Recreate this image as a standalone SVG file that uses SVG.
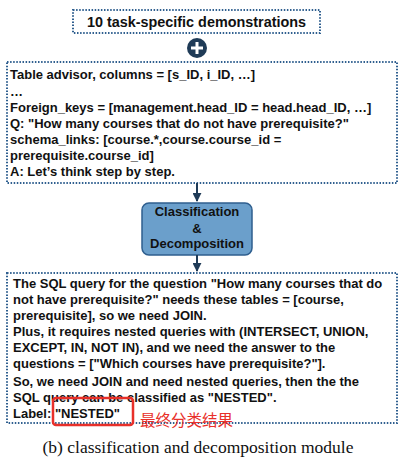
<svg xmlns="http://www.w3.org/2000/svg" width="408" height="467" viewBox="0 0 408 467">
<defs>
<marker id="ah" viewBox="0 0 10 10" refX="9" refY="5" markerWidth="4.5" markerHeight="4.5" orient="auto"><path d="M0,0 L10,5 L0,10 z" fill="#1f3b57"/></marker>
<style>
.dot{fill:#fff;stroke:#2f5f8f;stroke-width:2;stroke-dasharray:1.5 1.6}
.t{font-family:"Liberation Sans",Arial,sans-serif;font-weight:bold;font-size:13px;fill:#111}
.conn{stroke:#1f3b57;stroke-width:2;fill:none}
</style>
</defs>
<rect width="408" height="467" fill="#fff"/>
<g id="demos">
<rect class="dot" x="73" y="10" width="247" height="23"/>
<text class="t" x="196.5" y="27" text-anchor="middle" style="font-size:14.4px">10 task-specific demonstrations</text>
</g>
<g id="plus">
<circle cx="197" cy="48" r="10" fill="#1f3b57"/>
<path d="M191,48 H203 M197,42 V54" stroke="#fff" stroke-width="3"/>
</g>
<g id="prompt">
<rect class="dot" x="7" y="62" width="390" height="121"/>
<text class="t" x="10" y="79">Table advisor, columns = [s_ID, i_ID, …]</text>
<text class="t" x="10" y="96">…</text>
<text class="t" x="10" y="112">Foreign_keys = [management.head_ID = head.head_ID, …]</text>
<text class="t" x="10" y="128">Q: "How many courses that do not have prerequisite?"</text>
<text class="t" x="10" y="144">schema_links: [course.*,course.course_id =</text>
<text class="t" x="10" y="160">prerequisite.course_id]</text>
<text class="t" x="10" y="176">A: Let’s think step by step.</text>
</g>
<g id="classify">
<rect x="142" y="203" width="110" height="52" rx="7" fill="#6b9fcb" stroke="#2f5f8f" stroke-width="1.5"/>
<text class="t" x="197" y="216" text-anchor="middle">Classification</text>
<text class="t" x="197" y="233" text-anchor="middle">&amp;</text>
<text class="t" x="197" y="248" text-anchor="middle">Decomposition</text>
</g>
<g id="output">
<rect class="dot" x="7" y="273" width="390" height="150"/>
<text class="t" x="13" y="288">The SQL query for the question "How many courses that do</text>
<text class="t" x="13" y="304">not have prerequisite?" needs these tables = [course,</text>
<text class="t" x="13" y="320">prerequisite], so we need JOIN.</text>
<text class="t" x="13" y="336">Plus, it requires nested queries with (INTERSECT, UNION,</text>
<text class="t" x="13" y="352">EXCEPT, IN, NOT IN), and we need the answer to the</text>
<text class="t" x="13" y="368">questions = ["Which courses have prerequisite?"].</text>
<text class="t" x="13" y="386">So, we need JOIN and need nested queries, then the the</text>
<text class="t" x="13" y="402">SQL query can be classified as "NESTED".</text>
<text class="t" x="13" y="418">Label: "NESTED"</text>
</g>
<g id="annotation">
<rect x="53" y="398" width="80" height="27" rx="3" fill="none" stroke="#e8302a" stroke-width="2.5"/>
<text x="140" y="426" font-family="'Noto Sans CJK SC',sans-serif" font-size="15.5" fill="#e8302a">最终分类结果</text>
</g>
<g id="connectors">
<line class="conn" x1="197" y1="183" x2="197" y2="201" marker-end="url(#ah)"/>
<line class="conn" x1="197" y1="255" x2="197" y2="271" marker-end="url(#ah)"/>
</g>
<text x="198" y="453" text-anchor="middle" font-family="'Liberation Serif','Times New Roman',serif" font-size="17.5" fill="#111">(b) classification and decomposition module</text>
</svg>
